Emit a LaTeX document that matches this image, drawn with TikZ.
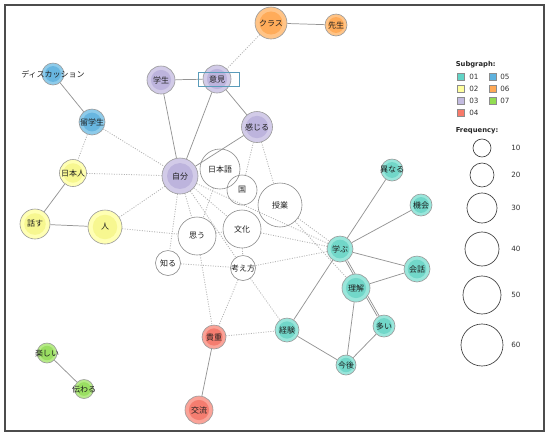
\documentclass[tikz,border=0pt]{standalone}
\usepackage{fontspec}
\setmainfont{DejaVu Sans}
\newfontfamily\jp{Noto Sans CJK JP}
\usetikzlibrary{backgrounds}
\definecolor{t1L}{HTML}{9AE6DB}\definecolor{t1D}{HTML}{72D7C9}
\definecolor{t2L}{HTML}{FFFFB4}\definecolor{t2D}{HTML}{F7F790}
\definecolor{t3L}{HTML}{D2CBE8}\definecolor{t3D}{HTML}{BDB4DD}
\definecolor{t4L}{HTML}{FAA398}\definecolor{t4D}{HTML}{F57D70}
\definecolor{t5L}{HTML}{8ECBEA}\definecolor{t5D}{HTML}{68B6E0}
\definecolor{t6L}{HTML}{FFC487}\definecolor{t6D}{HTML}{FFAC5A}
\definecolor{t7L}{HTML}{B6EA88}\definecolor{t7D}{HTML}{9ADF62}
\definecolor{s1}{HTML}{62D4C6}\definecolor{s2}{HTML}{FFFF9E}
\definecolor{s3}{HTML}{C3BBE0}\definecolor{s4}{HTML}{F87A6A}
\definecolor{s5}{HTML}{5EB2DE}\definecolor{s6}{HTML}{FFA955}
\definecolor{s7}{HTML}{92DD52}
\definecolor{boxc}{HTML}{5A9CBA}
\tikzset{
  lbl/.style={font=\jp\fontsize{6}{6.5}\selectfont, text=black!88, inner sep=0pt},
  base/.style={circle, inner sep=0pt, line width=0.45pt},
  cn/.style n args={3}{base, draw=black!40, minimum size=#1*1.5pt, fill=#2L,
     path picture={\fill[#2D] (path picture bounding box.center) circle[radius=#1*0.54pt];},
     label={[lbl]center:#3}},
  wn/.style 2 args={base, draw=black!45, minimum size=#1*1.5pt, label={[lbl]center:#2}},
  se/.style={draw=black!42, line width=0.55pt},
  de/.style={draw=black!30, line width=0.6pt, dash pattern=on 0.75pt off 1.1pt},
  legc/.style={circle, draw=black!75, line width=0.5pt, inner sep=0pt, minimum size=#1*1.5pt},
  sw/.style={draw=black!45, line width=0.4pt, fill=#1, minimum size=5.25pt, inner sep=0pt},
  ltxt/.style={font=\fontsize{5.4}{6}\selectfont, text=black!80, inner sep=0pt, anchor=west},
  lhead/.style={font=\bfseries\fontsize{5.1}{6}\selectfont, text=black!85, inner sep=0pt, anchor=west},
}
\begin{document}
\begin{tikzpicture}[x=0.75pt, y=-0.75pt]
\begin{scope}[on background layer]
\fill[white] (0,0) rectangle (550,437);
\end{scope}
\useasboundingbox (0,0) rectangle (550,437);
\draw[black!70, line width=0.9pt] (5,5) rectangle (544,431);
% subgraph 06
\node[cn={16}{t6}{クラス}] (kurasu) at (271,23) {};
\node[cn={11}{t6}{先生}] (sensei) at (336,25) {};
% subgraph 03
\node[cn={14}{t3}{学生}] (gakusei) at (161,80) {};
\node[cn={14}{t3}{意見}] (iken) at (217,79) {};
\node[cn={15.5}{t3}{感じる}] (kanjiru) at (257,127) {};
\node[cn={18}{t3}{自分}] (jibun) at (180,176) {};
% subgraph 05
\node[cn={11}{t5}{ディスカッション}] (disc) at (53,74) {};
\node[cn={13}{t5}{留学生}] (ryugaku) at (92,122) {};
% subgraph 02
\node[cn={13.5}{t2}{日本人}] (nihonjin) at (73,173) {};
\node[cn={15}{t2}{話す}] (hanasu) at (35,224) {};
\node[cn={17}{t2}{人}] (hito) at (105,227) {};
% white nodes
\node[wn={20}{日本語}] (nihongo) at (220,169) {};
\node[wn={15}{国}] (kuni) at (242,190) {};
\node[wn={22}{授業}] (jugyo) at (280,205) {};
\node[wn={19}{文化}] (bunka) at (242,229) {};
\node[wn={19}{思う}] (omou) at (197,236) {};
\node[wn={12.5}{知る}] (shiru) at (168,263) {};
\node[wn={12.5}{考え方}] (kangae) at (243,268) {};
% subgraph 04
\node[cn={12}{t4}{貴重}] (kicho) at (214,337) {};
\node[cn={14}{t4}{交流}] (koryu) at (199,410) {};
% subgraph 07
\node[cn={10}{t7}{楽しい}] (tanoshii) at (47,353) {};
\node[cn={9.5}{t7}{伝わる}] (tsutawaru) at (84,389) {};
% subgraph 01
\node[cn={11}{t1}{異なる}] (kotonaru) at (392,170) {};
\node[cn={11}{t1}{機会}] (kikai) at (421,205) {};
\node[cn={13}{t1}{学ぶ}] (manabu) at (340,249) {};
\node[cn={13}{t1}{会話}] (kaiwa) at (417,269) {};
\node[cn={14}{t1}{理解}] (rikai) at (356,288) {};
\node[cn={11}{t1}{多い}] (ooi) at (384,326) {};
\node[cn={12}{t1}{経験}] (keiken) at (287,330) {};
\node[cn={10}{t1}{今後}] (kongo) at (346,365) {};
% box around 意見
\node[draw=boxc, line width=0.5pt, minimum width=41*0.75pt, minimum height=14*0.75pt, inner sep=0pt] (ikenbox) at (218.5,79) {};
\begin{scope}[on background layer]
% dotted edges
\draw[de] (kurasu) -- (iken);
\draw[de] (ryugaku) -- (nihonjin);
\draw[de] (ryugaku) -- (jibun);
\draw[de] (nihonjin) -- (jibun);
\draw[de] (hito) -- (jibun);
\draw[de] (hito) -- (omou);
\draw[de] (kanjiru) -- (kuni);
\draw[de] (kanjiru) -- (jugyo);
\draw[de] (jibun) -- (shiru);
\draw[de] (jibun) -- (omou);
\draw[de] (jibun) -- (bunka);
\draw[de] (jibun) -- (kangae);
\draw[de] (jibun) -- (manabu);
\draw[de] (nihongo) -- (omou);
\draw[de] (omou) -- (bunka);
\draw[de] (omou) -- (kicho);
\draw[de] (shiru) -- (kangae);
\draw[de] (bunka) -- (kangae);
\draw[de] (kangae) -- (kicho);
\draw[de] (kangae) -- (manabu);
\draw[de] (kangae) -- (keiken);
\draw[de] (bunka) -- (manabu);
\draw[de] (jugyo) -- (manabu);
\draw[de] (jugyo) -- (rikai);
\draw[de] (kicho) -- (keiken);
% solid edges
\draw[se] (kurasu) -- (sensei);
\draw[se] (gakusei) -- (iken);
\draw[se] (gakusei) -- (jibun);
\draw[se] (iken) -- (jibun);
\draw[se] (iken) -- (kanjiru);
\draw[se] (kanjiru) -- (jibun);
\draw[se] (disc) -- (ryugaku);
\draw[se] (nihonjin) -- (hanasu);
\draw[se] (hanasu) -- (hito);
\draw[se] (kicho) -- (koryu);
\draw[se] (tanoshii) -- (tsutawaru);
\draw[se] (kotonaru) -- (manabu);
\draw[se] (kikai) -- (manabu);
\draw[se] (manabu) -- (kaiwa);
\draw[se] (manabu) -- (keiken);
\draw[se, transform canvas={xshift=0.7pt}] (manabu) -- (ooi);
\draw[se, transform canvas={xshift=-0.9pt}] (manabu) -- (ooi);
\draw[se] (rikai) -- (kaiwa);
\draw[se] (rikai) -- (kongo);
\draw[se] (ooi) -- (kongo);
\draw[se] (keiken) -- (kongo);
\end{scope}
% legend
\node[lhead] (subh) at (455.5,65) {Subgraph:};
\node[sw=s1] (sw1) at (461,77) {};\node[ltxt] (sl1) at (469,77) {01};
\node[sw=s2] (sw2) at (461,89) {};\node[ltxt] (sl2) at (469,89) {02};
\node[sw=s3] (sw3) at (461,101) {};\node[ltxt] (sl3) at (469,101) {03};
\node[sw=s4] (sw4) at (461,113) {};\node[ltxt] (sl4) at (469,113) {04};
\node[sw=s5] (sw5) at (493,77) {};\node[ltxt] (sl5) at (500,77) {05};
\node[sw=s6] (sw6) at (493,89) {};\node[ltxt] (sl6) at (500,89) {06};
\node[sw=s7] (sw7) at (493,101) {};\node[ltxt] (sl7) at (500,101) {07};
\node[lhead] (freqh) at (455.5,131) {Frequency:};
\node[legc=9] (f10) at (482,148) {};\node[ltxt] (f10t) at (511,148) {10};
\node[legc=12] (f20) at (482,175) {};\node[ltxt] (f20t) at (511,175) {20};
\node[legc=15] (f30) at (482,208) {};\node[ltxt] (f30t) at (511,208) {30};
\node[legc=17] (f40) at (482,249) {};\node[ltxt] (f40t) at (511,249) {40};
\node[legc=19] (f50) at (482,295) {};\node[ltxt] (f50t) at (511,295) {50};
\node[legc=21] (f60) at (482,345) {};\node[ltxt] (f60t) at (511,345) {60};
\end{tikzpicture}
\end{document}
